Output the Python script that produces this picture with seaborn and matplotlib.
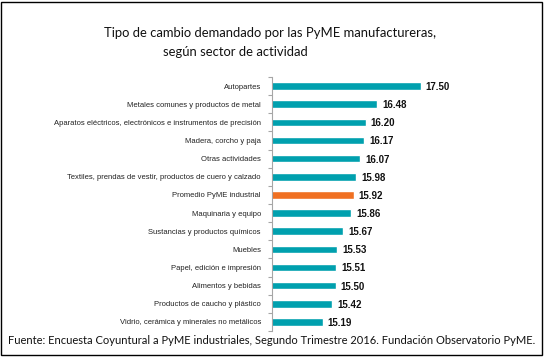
import matplotlib.pyplot as plt
import matplotlib.patches as mpatches
import numpy as np
import pandas as pd
import seaborn as sns

# Data
sectors = [
    "Autopartes",
    "Metales comunes y productos de metal",
    "Aparatos eléctricos, electrónicos e instrumentos de precisión",
    "Madera, corcho y paja",
    "Otras actividades",
    "Textiles, prendas de vestir, productos de cuero y calzado",
    "Promedio PyME industrial",
    "Maquinaria y equipo",
    "Sustancias y productos químicos",
    "Muebles",
    "Papel, edición e impresión",
    "Alimentos y bebidas",
    "Productos de caucho y plástico",
    "Vidrio, cerámica y minerales no metálicos",
]
exchange_rate = [17.50, 16.48, 16.20, 16.17, 16.07, 15.98, 15.92,
                 15.86, 15.67, 15.53, 15.51, 15.50, 15.42, 15.19]
group = ["Sector"] * 6 + ["Promedio"] + ["Sector"] * 7

df = pd.DataFrame({"sector": sectors, "valor": exchange_rate, "grupo": group})

sns.set_theme(style="white")
plt.rcParams["font.family"] = ["Liberation Sans", "DejaVu Sans"]

fig = plt.figure(figsize=(5.45, 3.62), dpi=100)
ax = fig.add_axes([272 / 545, 1 - 331 / 362, 170 / 545, 254 / 362])

sns.barplot(
    data=df, y="sector", x="valor", hue="grupo", orient="h",
    palette={"Sector": "#00A0AE", "Promedio": "#F07022"},
    dodge=False, width=0.42, saturation=1, legend=False, ax=ax,
)

ax.set_xlim(14, 18)
ax.set_ylim(len(sectors) - 0.5, -0.5)
ax.set_xlabel("")
ax.set_ylabel("")
ax.set_xticks([])
for s in ["top", "right", "bottom"]:
    ax.spines[s].set_visible(False)
ax.spines["left"].set_color("#A6A6A6")
ax.spines["left"].set_linewidth(0.8)

ax.tick_params(axis="y", which="major", length=0, pad=8, labelsize=5.5, labelcolor="#222222")
ax.set_yticks(np.arange(-0.5, len(sectors), 1), minor=True)
ax.tick_params(axis="y", which="minor", length=3, color="#A6A6A6", width=0.8, left=True)

for i, v in enumerate(exchange_rate):
    ax.text(v + 0.12, i + 0.05, f"{v:.2f}", va="center", ha="left",
            fontsize=7, fontweight="bold", color="#111111")

title_font = ["Lato", "DejaVu Sans"]
fig.text(270 / 545, 1 - 33 / 362, "Tipo de cambio demandado por las PyME manufactureras,",
         ha="center", va="center", fontsize=9.4, family=title_font, color="#111111")
fig.text(235 / 545, 1 - 52 / 362, "según sector de actividad",
         ha="center", va="center", fontsize=9.4, family=title_font, color="#111111")
fig.text(272 / 545, 1 - 341 / 362,
         "Fuente: Encuesta Coyuntural a PyME industriales, Segundo Trimestre 2016. Fundación Observatorio PyME.",
         ha="center", va="center", fontsize=8.0, family=title_font, color="#111111")

fig.patches.append(mpatches.Rectangle((1 / 545, 1 - 355 / 362), 541 / 545, 353 / 362,
                                      transform=fig.transFigure, fill=False,
                                      edgecolor="black", linewidth=1))

fig.savefig("out.png", dpi=100)
